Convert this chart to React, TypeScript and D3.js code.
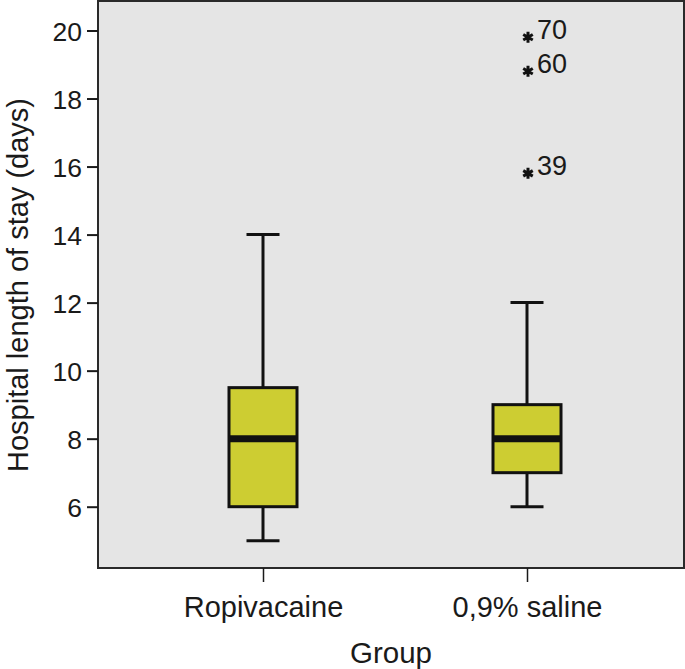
import { useEffect, useRef } from 'react';
import * as d3 from 'd3';

const groups = ['Ropivacaine', '0,9% saline'];
const whiskerLow = [5, 6];
const q1 = [6, 7];
const median = [8, 8];
const q3 = [9.5, 9];
const whiskerHigh = [14, 12];

const outlierGroup = ['0,9% saline', '0,9% saline', '0,9% saline'];
const outlierValue = [19.8, 18.8, 15.8];
const outlierCase = ['70', '60', '39'];

const yTicks = [6, 8, 10, 12, 14, 16, 18, 20];

export default function App() {
  const svgRef = useRef<SVGSVGElement>(null);

  useEffect(() => {
    if (!svgRef.current) return;
    const width = 685;
    const height = 669;
    const plot = { left: 98, right: 684, top: 1, bottom: 568 };
    const font = '"Liberation Sans", Arial, Helvetica, sans-serif';

    const svg = d3.select(svgRef.current);
    svg.selectAll('*').remove();
    svg.attr('width', width).attr('height', height);

    const y = d3.scaleLinear().domain([6, 20]).range([506.7, 30.5]);
    const x = d3.scalePoint<string>().domain(groups).range([263, 527]);

    // plot background
    svg
      .append('rect')
      .attr('x', plot.left)
      .attr('y', plot.top)
      .attr('width', plot.right - plot.left)
      .attr('height', plot.bottom - plot.top)
      .attr('fill', '#e5e5e5')
      .attr('stroke', '#2a2a2a')
      .attr('stroke-width', 2);

    // Y axis
    const yAxis = svg
      .append('g')
      .attr('transform', `translate(${plot.left},0)`)
      .call(d3.axisLeft(y).tickValues(yTicks).tickSize(11).tickPadding(5));
    yAxis.select('.domain').remove();
    yAxis.selectAll('line').attr('stroke', '#1a1a1a').attr('stroke-width', 2);
    yAxis
      .selectAll('text')
      .attr('fill', '#1a1a1a')
      .attr('dy', '0.36em')
      .style('font-family', font)
      .style('font-size', '26.5px');

    // X axis
    const xAxis = svg
      .append('g')
      .attr('transform', `translate(0,${plot.bottom})`)
      .call(d3.axisBottom(x).tickSize(14).tickPadding(14));
    xAxis.select('.domain').remove();
    xAxis.selectAll('line').attr('stroke', '#1a1a1a').attr('stroke-width', 1.5);
    xAxis
      .selectAll('text')
      .attr('fill', '#1a1a1a')
      .style('font-family', font)
      .style('font-size', '29px');

    // axis titles
    svg
      .append('text')
      .attr('transform', `translate(28,285) rotate(-90)`)
      .attr('text-anchor', 'middle')
      .attr('fill', '#1a1a1a')
      .style('font-family', font)
      .style('font-size', '29px')
      .text('Hospital length of stay (days)');

    svg
      .append('text')
      .attr('x', 391)
      .attr('y', 663)
      .attr('text-anchor', 'middle')
      .attr('fill', '#1a1a1a')
      .style('font-family', font)
      .style('font-size', '29.5px')
      .text('Group');

    // boxes
    const boxW = 68;
    const capW = 33;
    const g = svg.append('g');
    groups.forEach((grp, i) => {
      const cx = x(grp)!;
      const stroke = '#111';
      g.append('line')
        .attr('x1', cx).attr('x2', cx)
        .attr('y1', y(whiskerHigh[i])).attr('y2', y(q3[i]))
        .attr('stroke', stroke).attr('stroke-width', 3);
      g.append('line')
        .attr('x1', cx).attr('x2', cx)
        .attr('y1', y(q1[i])).attr('y2', y(whiskerLow[i]))
        .attr('stroke', stroke).attr('stroke-width', 3);
      g.append('line')
        .attr('x1', cx - capW / 2).attr('x2', cx + capW / 2)
        .attr('y1', y(whiskerHigh[i])).attr('y2', y(whiskerHigh[i]))
        .attr('stroke', stroke).attr('stroke-width', 3);
      g.append('line')
        .attr('x1', cx - capW / 2).attr('x2', cx + capW / 2)
        .attr('y1', y(whiskerLow[i])).attr('y2', y(whiskerLow[i]))
        .attr('stroke', stroke).attr('stroke-width', 3);
      g.append('rect')
        .attr('x', cx - boxW / 2)
        .attr('y', y(q3[i]))
        .attr('width', boxW)
        .attr('height', y(q1[i]) - y(q3[i]))
        .attr('fill', '#cdcd32')
        .attr('stroke', stroke)
        .attr('stroke-width', 3);
      g.append('line')
        .attr('x1', cx - boxW / 2).attr('x2', cx + boxW / 2)
        .attr('y1', y(median[i])).attr('y2', y(median[i]))
        .attr('stroke', stroke).attr('stroke-width', 7);
    });

    // extreme values
    const star = d3.symbol().type(d3.symbolAsterisk).size(85);
    outlierValue.forEach((v, i) => {
      const cx = x(outlierGroup[i])!;
      g.append('path')
        .attr('d', star()!)
        .attr('transform', `translate(${cx + 1},${y(v)})`)
        .attr('fill', 'none')
        .attr('stroke', '#111')
        .attr('stroke-width', 3);
      g.append('text')
        .attr('x', cx + 10)
        .attr('y', y(v) + 2)
        .attr('fill', '#1a1a1a')
        .style('font-family', font)
        .style('font-size', '27px')
        .text(outlierCase[i]);
    });
  }, []);

  return (
    <svg
      ref={svgRef}
      style={{ position: 'absolute', left: 0, top: 0, background: '#fff' }}
    />
  );
}
